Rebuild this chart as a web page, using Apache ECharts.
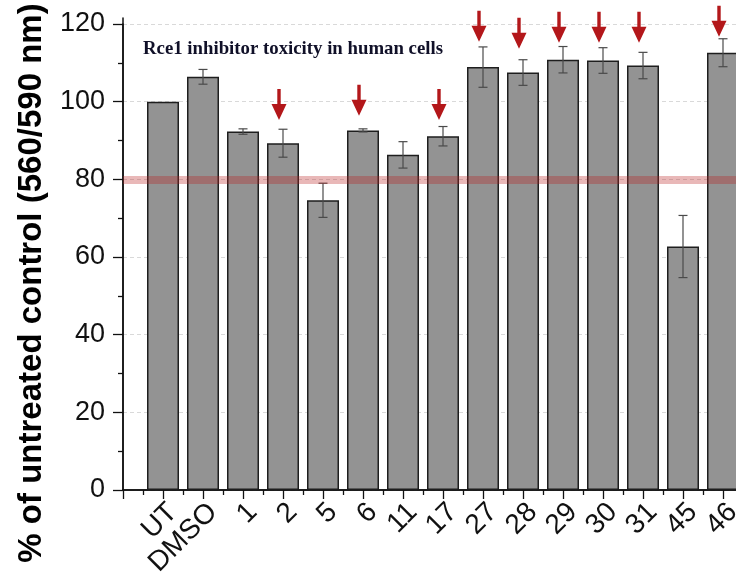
<!DOCTYPE html>
<html>
<head>
<meta charset="utf-8">
<script src="https://cdn.jsdelivr.net/npm/echarts@6/dist/echarts.min.js"></script>
<style>
  html, body { margin: 0; padding: 0; background: #fff; overflow: hidden; }
  /* The plot frame runs past the right edge of the page, so the canvas is wider than the window */
  #chart { width: 800px; height: 580px; }
</style>
</head>
<body>
<div id="chart"></div>
<script>
// Compounds tested (UT = untreated, DMSO = vehicle)
const compounds = ['UT', 'DMSO', '1', '2', '5', '6', '11', '17', '27', '28', '29', '30', '31', '45', '46'];
// Mean signal as % of untreated control
const meanPct = [100, 106.4, 92.3, 89.3, 74.6, 92.6, 86.3, 91.1, 108.9, 107.5, 110.8, 110.6, 109.3, 62.7, 112.6];
// Error (± half-range of the error bar)
const errPct = [0, 1.9, 0.7, 3.6, 4.4, 0.4, 3.4, 2.5, 5.2, 3.3, 3.4, 3.3, 3.4, 8.0, 3.6];
// Highlighted compounds and where each arrow tip sits (in % units)
const arrowCompounds = ['2', '6', '17', '27', '28', '29', '30', '31', '46'];
const arrowTips = [95.3, 96.4, 95.3, 115.4, 113.6, 115.2, 115.2, 115.2, 116.7];
// Toxicity threshold
const threshold = 80;
const yTicks = [0, 20, 40, 60, 80, 100, 120];

const barData = compounds.map((c, i) => [i + 1, meanPct[i]]);
const errData = compounds.map((c, i) => [i + 1, meanPct[i] - errPct[i], meanPct[i] + errPct[i]]);
const arrowData = arrowCompounds.map((c, k) => [compounds.indexOf(c) + 1, arrowTips[k]]);

const sans = "'Liberation Sans', Arial, sans-serif";
const chart = echarts.init(document.getElementById('chart'), null, { renderer: 'canvas' });

chart.setOption({
  animation: false,
  backgroundColor: '#fff',
  title: {
    text: 'Rce1 inhibitor toxicity in human cells',
    left: 143, top: 40, padding: 0,
    textStyle: { fontFamily: "'Liberation Serif', 'Times New Roman', serif", fontWeight: 'bold', fontSize: 18.8, color: '#101028' }
  },
  graphic: [{
    type: 'text',
    x: 32, y: 283,
    rotation: Math.PI / 2,
    style: {
      text: '% of untreated control (560/590 nm)',
      font: "bold 33px 'Liberation Sans', Arial, sans-serif",
      fill: '#000',
      align: 'center',
      verticalAlign: 'middle'
    }
  }],
  grid: [
    { left: 123, top: 24, width: 640, height: 466 },
    { left: 123, top: 18, width: 640, height: 472 }
  ],
  xAxis: [{
    type: 'value', gridIndex: 0, min: 0, max: 16, interval: 1,
    axisLine: { show: true, lineStyle: { color: '#111', width: 1.5 } },
    axisTick: { show: true, length: 9, lineStyle: { color: '#111', width: 1.3 } },
    minorTick: { show: true, splitNumber: 2, length: 5, lineStyle: { color: '#111', width: 1.3 } },
    splitLine: { show: false },
    axisLabel: {
      rotate: 45, margin: 8, verticalAlign: 'top', fontSize: 28, fontFamily: sans, color: '#111',
      formatter: v => compounds[v - 1] || ''
    }
  }, {
    type: 'value', gridIndex: 1, position: 'top', min: 0, max: 1,
    axisLine: { show: true, lineStyle: { color: '#111', width: 1.5 } },
    axisTick: { show: false }, axisLabel: { show: false }, splitLine: { show: false }
  }],
  yAxis: [{
    type: 'value', gridIndex: 0, min: yTicks[0], max: yTicks[yTicks.length - 1], interval: 20,
    axisLine: { show: true, lineStyle: { color: '#111', width: 1.5 } },
    axisTick: { show: true, length: 10, lineStyle: { color: '#111', width: 1.3 } },
    minorTick: { show: true, splitNumber: 2, length: 5, lineStyle: { color: '#111', width: 1.3 } },
    splitLine: { show: true, lineStyle: { color: '#d9d9d9', type: [4, 3], width: 1 } },
    axisLabel: { margin: 18, fontSize: 27, fontFamily: sans, color: '#111' }
  }, {
    type: 'value', gridIndex: 1, min: 0, max: 1,
    axisLine: { show: true, lineStyle: { color: '#111', width: 1.5 } },
    axisTick: { show: false }, axisLabel: { show: false }, splitLine: { show: false }
  }],
  series: [{
    type: 'bar',
    xAxisIndex: 0, yAxisIndex: 0,
    data: barData,
    barWidth: 32,
    itemStyle: { color: '#939393', borderColor: '#1e1e1e', borderWidth: 1.5 },
    z: 2
  }, {
    type: 'custom',
    xAxisIndex: 0, yAxisIndex: 0,
    data: errData,
    z: 3,
    renderItem: (params, api) => {
      const x = api.value(0);
      const lo = api.coord([x, api.value(1)]);
      const hi = api.coord([x, api.value(2)]);
      if (Math.abs(hi[1] - lo[1]) < 1) return null;
      const cap = 4.5;
      const style = { stroke: '#4a4a4a', lineWidth: 1.2 };
      return {
        type: 'group',
        children: [
          { type: 'line', shape: { x1: lo[0], y1: lo[1], x2: hi[0], y2: hi[1] }, style },
          { type: 'line', shape: { x1: lo[0] - cap, y1: lo[1], x2: lo[0] + cap, y2: lo[1] }, style },
          { type: 'line', shape: { x1: hi[0] - cap, y1: hi[1], x2: hi[0] + cap, y2: hi[1] }, style }
        ]
      };
    }
  }, {
    // Threshold band
    type: 'line',
    xAxisIndex: 0, yAxisIndex: 0,
    data: [],
    markLine: {
      silent: true,
      symbol: 'none',
      label: { show: false },
      lineStyle: { color: 'rgba(188, 33, 33, 0.32)', width: 8, type: 'solid' },
      data: [{ yAxis: threshold }]
    },
    z: 5
  }, {
    // Arrows pointing at non-toxic compounds
    type: 'custom',
    xAxisIndex: 0, yAxisIndex: 0,
    data: arrowData,
    clip: false,
    z: 6,
    renderItem: (params, api) => {
      const p = api.coord([api.value(0), api.value(1)]);
      const x = p[0] - 4, tip = p[1];
      const headH = 16, headW = 7.5, shaftW = 1.7, total = 31;
      return {
        type: 'polygon',
        shape: {
          points: [
            [x - shaftW, tip - total], [x + shaftW, tip - total],
            [x + shaftW, tip - headH], [x + headW, tip - headH],
            [x, tip], [x - headW, tip - headH],
            [x - shaftW, tip - headH]
          ]
        },
        style: { fill: '#b3171a' }
      };
    }
  }]
});
</script>
</body>
</html>
